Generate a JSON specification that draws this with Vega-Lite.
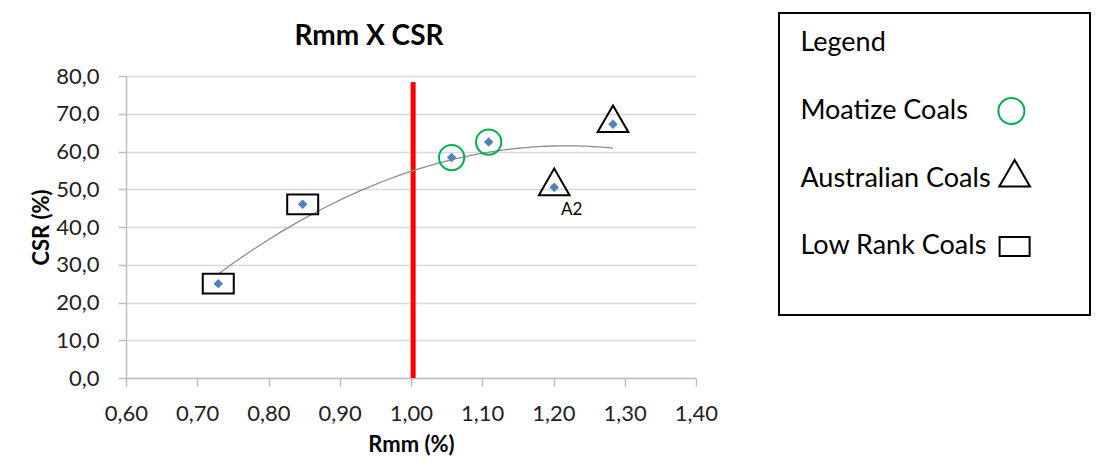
{
  "$schema": "https://vega.github.io/schema/vega-lite/v6.json",
  "background": "white",
  "padding": {"left": 30, "top": 12, "right": 5, "bottom": 5},
  "spacing": 60,
  "config": {"font": "Lato", "view": {"stroke": null}},
  "datasets": {
    "pts": [
      {"rmm": 0.7295, "csr": 25.0, "group": "Low Rank Coals", "label": ""},
      {"rmm": 0.848, "csr": 46.0, "group": "Low Rank Coals", "label": ""},
      {"rmm": 1.057, "csr": 58.4, "group": "Moatize Coals", "label": ""},
      {"rmm": 1.109, "csr": 62.5, "group": "Moatize Coals", "label": ""},
      {"rmm": 1.201, "csr": 50.5, "group": "Australian Coals", "label": "A2"},
      {"rmm": 1.2835, "csr": 67.2, "group": "Australian Coals", "label": ""}
    ],
    "limit": [{"rmm": 1.003, "csr": 0, "csr2": 78.4}],
    "legend": [
      {"item": "Legend", "row": 0, "tcol": 0, "scol": null, "sym": "none"},
      {"item": "Moatize Coals", "row": 1, "tcol": 0, "scol": 0.988, "sym": "circle"},
      {"item": "Australian Coals", "row": 2, "tcol": 0, "scol": 1.003, "sym": "triangle"},
      {"item": "Low Rank Coals", "row": 3, "tcol": 0, "scol": 1.003, "sym": "rect"}
    ],
    "box": [{"bx": -0.1002, "bx2": 1.356, "by": -0.4476, "by2": 4.0134}]
  },
  "hconcat": [
    {
      "width": 570,
      "height": 302,
      "view": {"stroke": null},
      "title": {"text": "Rmm X CSR", "fontSize": 28, "font": "Lato", "fontWeight": "bold", "color": "#000000", "anchor": "middle", "dx": -42, "offset": 14},
      "data": {"name": "pts"},
      "encoding": {
        "x": {"field": "rmm", "type": "quantitative",
          "scale": {"domain": [0.6, 1.4], "nice": false, "zero": false},
          "axis": {"title": "Rmm (%)", "values": [0.6, 0.7, 0.8, 0.9, 1.0, 1.1, 1.2, 1.3, 1.4],
            "labelExpr": "replace(format(datum.value, '.2f'), '.', ',')",
            "grid": false, "domain": true, "domainColor": "#BFBFBF", "domainWidth": 1.5, "tickColor": "#BFBFBF", "tickWidth": 1.5, "tickSize": 8,
            "labelFontSize": 22, "labelColor": "#222222", "labelPadding": 17, "labelFlush": false, "labelOverlap": false,
            "titleFontSize": 22, "titleFontWeight": "bold", "titleColor": "#000000", "titlePadding": 10}},
        "y": {"field": "csr", "type": "quantitative",
          "scale": {"domain": [0, 80], "nice": false, "zero": false},
          "axis": {"title": "CSR (%)", "values": [0, 10, 20, 30, 40, 50, 60, 70, 80],
            "labelExpr": "replace(format(datum.value, '.1f'), '.', ',')",
            "grid": true, "gridColor": "#D9D9D9", "gridWidth": 1.5, "domain": true, "domainColor": "#BFBFBF", "domainWidth": 1.5, "tickColor": "#BFBFBF", "tickWidth": 1.5, "tickSize": 8,
            "labelFontSize": 22, "labelColor": "#222222", "labelPadding": 19, "labelFlush": false, "labelOverlap": false,
            "titleFontSize": 22, "titleFontWeight": "bold", "titleColor": "#000000", "titlePadding": 2}}
      },
      "layer": [
        {
          "data": {"name": "limit"},
          "mark": {"type": "rule", "color": "#FF0000", "strokeWidth": 5},
          "encoding": {"y2": {"field": "csr2"}}
        },
        {
          "transform": [{"regression": "csr", "on": "rmm", "method": "poly", "order": 2}],
          "mark": {"type": "line", "color": "#8C8C8C", "strokeWidth": 1.3}
        },
        {
          "transform": [{"filter": "datum.group === 'Low Rank Coals'"}],
          "mark": {"type": "point", "shape": "M-1,-0.635H1V0.635H-1Z", "size": 961, "color": "#000000", "strokeWidth": 2, "filled": false, "opacity": 1}
        },
        {
          "transform": [{"filter": "datum.group === 'Moatize Coals'"}],
          "mark": {"type": "point", "shape": "circle", "size": 640, "color": "#00B050", "strokeWidth": 2, "filled": false, "opacity": 1}
        },
        {
          "transform": [{"filter": "datum.group === 'Australian Coals'"}],
          "mark": {"type": "point", "shape": "triangle-up", "size": 942, "color": "#000000", "strokeWidth": 2, "filled": false, "opacity": 1, "yOffset": -5.5}
        },
        {
          "mark": {"type": "point", "shape": "diamond", "size": 90, "color": "#4F81BD", "filled": true, "opacity": 1}
        },
        {
          "transform": [{"filter": "datum.label !== ''"}],
          "mark": {"type": "text", "dx": 17.4, "dy": 22.7, "fontSize": 17, "color": "#000000", "align": "center", "baseline": "middle"},
          "encoding": {"text": {"field": "label"}}
        }
      ]
    },
    {
      "width": 311,
      "height": 302,
      "view": {"stroke": null},
      "data": {"name": "legend"},
      "encoding": {
        "x": {"field": "tcol", "type": "quantitative", "scale": {"domain": [-0.1002, 1.356], "nice": false, "zero": false}, "axis": null},
        "y": {"field": "row", "type": "quantitative", "scale": {"domain": [0.483, 4.944], "reverse": true, "nice": false, "zero": false}, "axis": null}
      },
      "layer": [
        {
          "data": {"name": "box"},
          "mark": {"type": "rect", "fill": null, "fillOpacity": 0, "stroke": "#000000", "strokeWidth": 2},
          "encoding": {
            "x": {"field": "bx", "type": "quantitative"},
            "x2": {"field": "bx2"},
            "y": {"field": "by", "type": "quantitative"},
            "y2": {"field": "by2"}
          }
        },
        {
          "mark": {"type": "text", "align": "left", "baseline": "middle", "fontSize": 27, "color": "#000000"},
          "encoding": {"text": {"field": "item"}}
        },
        {
          "transform": [{"filter": "datum.sym === 'circle'"}],
          "mark": {"type": "point", "shape": "circle", "size": 676, "color": "#00B050", "strokeWidth": 2, "filled": false, "opacity": 1},
          "encoding": {"x": {"field": "scol", "type": "quantitative"}}
        },
        {
          "transform": [{"filter": "datum.sym === 'triangle'"}],
          "mark": {"type": "point", "shape": "triangle-up", "size": 942, "color": "#000000", "strokeWidth": 2, "filled": false, "opacity": 1, "yOffset": -5.5},
          "encoding": {"x": {"field": "scol", "type": "quantitative"}}
        },
        {
          "transform": [{"filter": "datum.sym === 'rect'"}],
          "mark": {"type": "point", "shape": "M-1,-0.633H1V0.633H-1Z", "size": 900, "color": "#000000", "strokeWidth": 2, "filled": false, "opacity": 1},
          "encoding": {"x": {"field": "scol", "type": "quantitative"}}
        }
      ]
    }
  ]
}
